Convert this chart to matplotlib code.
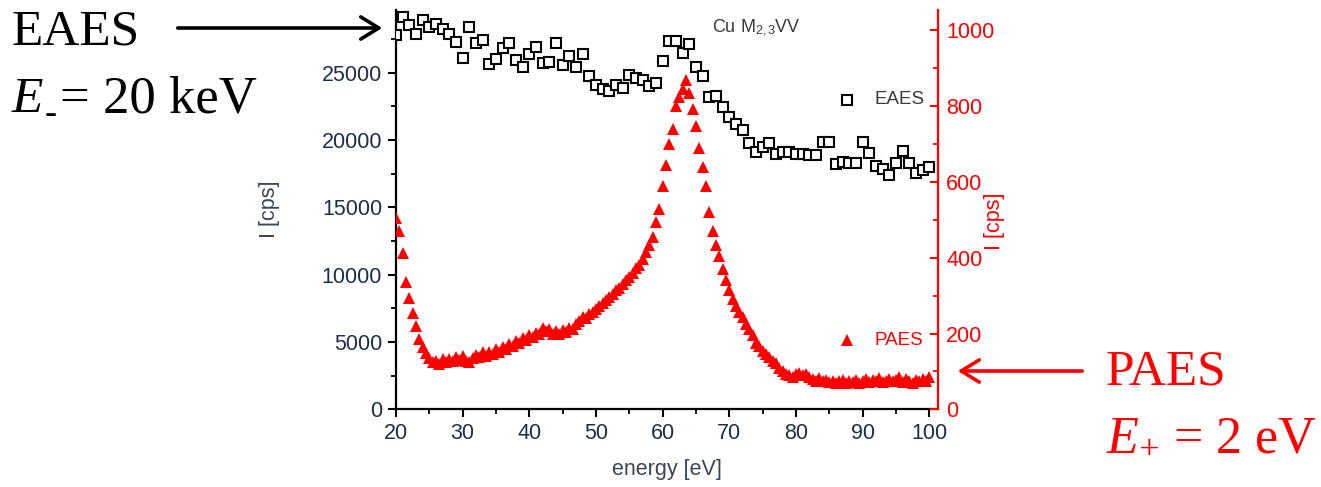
import numpy as np
import matplotlib.pyplot as plt
from matplotlib.patches import FancyArrowPatch
from matplotlib.ticker import MultipleLocator

plt.rcParams['font.family'] = ['Liberation Sans', 'DejaVu Sans']
plt.rcParams['mathtext.fontset'] = 'custom'
plt.rcParams['mathtext.rm'] = 'Liberation Serif'
plt.rcParams['mathtext.it'] = 'Liberation Serif:italic'
plt.rcParams['mathtext.sf'] = 'Liberation Sans'

# EAES spectrum, 1 eV steps from 20 to 100 eV (left axis, counts per second)
eaesEnergy = list(range(20, 101))
eaesCounts = [27810, 29170, 28550, 27860, 28920, 28380, 28620, 28250, 27860, 27270,
              26080, 28380, 27240, 27440, 25650, 26050, 26820, 27190, 25950, 25410,
              26400, 26890, 25750, 25830, 27190, 25580, 26270, 25410, 26400, 24790,
              24100, 23780, 23670, 24100, 23850, 24840, 24590, 24470, 24020, 24220,
              25900, 27360, 27360, 26450, 27140, 25450, 24760, 23180, 23280, 22440,
              21740, 21200, 20750, 19760, 19140, 19510, 19760, 18970, 19140, 19140,
              18970, 18970, 18890, 18890, 19880, 19880, 18220, 18400, 18320, 18320,
              19880, 19020, 18100, 17850, 17400, 18280, 19210, 18280, 17530, 17780,
              18020]

# PAES spectrum, 0.5 eV steps from 20 to 100 eV (right axis)
paesEnergy = [20 + 0.5 * i for i in range(161)]
paesCounts = [505, 470, 412, 335, 295, 255, 220, 185, 165, 148,
              135, 124, 128, 120, 132, 126, 134, 128, 138, 130,
              140, 128, 126, 136, 144, 138, 150, 142, 152, 146,
              158, 150, 164, 158, 172, 166, 180, 176, 188, 182,
              195, 190, 202, 198, 214, 206, 212, 200, 208, 198,
              210, 204, 214, 212, 226, 234, 244, 240, 252, 258,
              266, 272, 280, 288, 296, 304, 314, 320, 332, 340,
              350, 360, 372, 380, 398, 415, 435, 455, 495, 530,
              590, 645, 700, 740, 800, 825, 845, 870, 835, 792,
              748, 690, 640, 590, 520, 470, 435, 405, 370, 340,
              316, 292, 272, 256, 244, 226, 212, 196, 176, 168,
              155, 146, 138, 128, 121, 110, 102, 94, 90, 86,
              92, 96, 90, 94, 86, 80, 76, 82, 74, 78,
              72, 76, 70, 74, 78, 70, 76, 72, 78, 70,
              74, 80, 72, 78, 74, 82, 72, 76, 80, 74,
              78, 84, 72, 80, 76, 70, 78, 74, 80, 76,
              84]

tickColor = '#1f2e48'
labelColor = '#3a4656'
paesColor = '#ff0000'
W, H = 1321, 487

fig = plt.figure(figsize=(W / 100, H / 100), dpi=100)
ax = fig.add_axes([396 / W, 1 - 409.3 / H, 542 / W, 399.3 / H])
ax2 = ax.twinx()

ax.plot(eaesEnergy, eaesCounts, linestyle='none', marker='s', markersize=7,
        markerfacecolor='white', markeredgecolor='black', markeredgewidth=1.5, zorder=3)
ax2.plot(paesEnergy, paesCounts, linestyle='none', marker='^', markersize=8.5,
         color=paesColor, markeredgewidth=0)

ax.set_xlim(20, 101.3)
ax.set_ylim(0, 29660)
ax2.set_ylim(0, 1054)

ax.xaxis.set_major_locator(MultipleLocator(10))
ax.xaxis.set_minor_locator(MultipleLocator(5))
ax.yaxis.set_major_locator(MultipleLocator(5000))
ax.yaxis.set_minor_locator(MultipleLocator(2500))
ax2.yaxis.set_major_locator(MultipleLocator(200))
ax2.yaxis.set_minor_locator(MultipleLocator(100))

for a in (ax, ax2):
    a.spines['top'].set_visible(False)
    a.patch.set_visible(False)
ax.spines['right'].set_visible(False)
ax2.spines['left'].set_visible(False)
ax2.spines['bottom'].set_visible(False)
ax.spines['left'].set_linewidth(1.6)
ax.spines['bottom'].set_linewidth(1.6)
ax2.spines['right'].set_linewidth(1.6)
ax2.spines['right'].set_color(paesColor)

ax.tick_params(which='major', direction='out', length=6, width=1.5,
               labelsize=15.5, labelcolor=tickColor, pad=4)
ax.tick_params(which='minor', direction='out', length=3.5, width=1.3)
ax2.tick_params(which='major', direction='in', length=6, width=1.5, color=paesColor,
                labelsize=15.5, labelcolor=paesColor, pad=6)
ax2.tick_params(which='minor', direction='in', length=3.5, width=1.3, color=paesColor)

ax.set_xlabel('energy [eV]', fontsize=15.5, color=labelColor)
ax.set_ylabel('I [cps]', fontsize=15.5, color=labelColor)
ax2.set_ylabel('I [cps]', fontsize=15.5, color=paesColor)
ax.xaxis.set_label_coords(0.5, -0.125)
ax.yaxis.set_label_coords(-0.214, 0.5)
ax2.yaxis.set_label_coords(1.085, 0.47)

ax.text(67.4, 28330, r'Cu M$_{\mathsf{2,3}}$VV', fontsize=13, color='#3a3a3a',
        va='center', ha='left')

# legend entries drawn by hand at the right of the plot
ax.plot([87.7], [23000], linestyle='none', marker='s', markersize=7,
        markerfacecolor='white', markeredgecolor='black', markeredgewidth=1.5)
ax.text(91.8, 23000, 'EAES', fontsize=13.5, color='#3a3a3a', va='center')
ax2.plot([87.7], [182], linestyle='none', marker='^', markersize=8.5,
         color=paesColor, markeredgewidth=0)
ax2.text(91.8, 182, 'PAES', fontsize=13.5, color=paesColor, va='center')

# side labels with arrows
serif = 'Liberation Serif'
fig.text(12 / W, 1 - 32 / H, 'EAES', fontsize=37, family=serif, va='center')
fig.text(12 / W, 1 - 100 / H, 'E', fontsize=37, family=serif, style='italic', va='center')
fig.text(45 / W, 1 - 114 / H, '-', fontsize=26, family=serif, va='center')
fig.text(60 / W, 1 - 100 / H, '= 20 keV', fontsize=38, family=serif, va='center')
fig.text(1106 / W, 1 - 372 / H, 'PAES', fontsize=37, family=serif,
         va='center', color=paesColor)
fig.text(1106 / W, 1 - 436 / H, r'$\mathit{E}_{+}$ = 2 eV', fontsize=37.5,
         family=serif, va='center', color=paesColor)

fig.patches.append(FancyArrowPatch(
    (175 / W, 1 - 28 / H), (385 / W, 1 - 28 / H), transform=fig.transFigure,
    arrowstyle='->,head_length=13,head_width=8', linewidth=2.6, color='black',
    mutation_scale=1))
fig.patches.append(FancyArrowPatch(
    (1085 / W, 1 - 371 / H), (955 / W, 1 - 371 / H), transform=fig.transFigure,
    arrowstyle='->,head_length=13,head_width=8', linewidth=2.6, color=paesColor,
    mutation_scale=1))

fig.savefig('out.png', dpi=100)
